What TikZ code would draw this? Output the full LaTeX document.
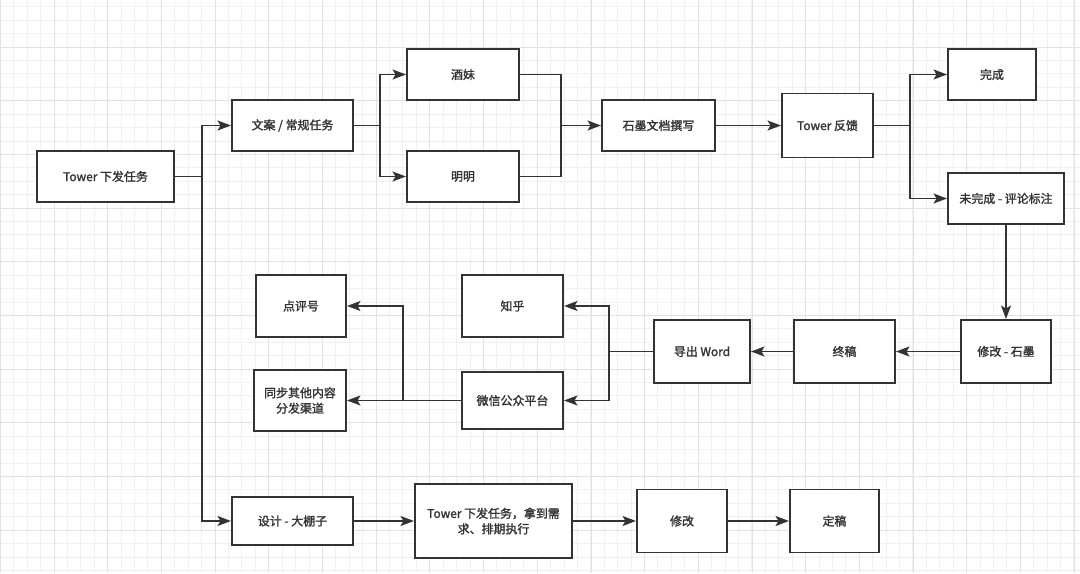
\documentclass[tikz,border=0pt]{standalone}
\usepackage{fontspec}
\setmainfont{Noto Sans CJK SC}
\newfontfamily\boxfont{Noto Sans CJK SC}[FakeBold=1.6]
\usepackage{xcolor}
\usetikzlibrary{arrows.meta,positioning}
\definecolor{inkgray}{HTML}{333333}
\definecolor{gridminor}{HTML}{F0F0F0}
\definecolor{gridmajor}{HTML}{E2E2E2}

\begin{document}
\begin{tikzpicture}[x=0.025cm, y=-0.025cm, >={Stealth[length=9.5pt, width=7pt, inset=2pt]},
    box/.style={draw=inkgray, line width=1.4pt, fill=white, inner sep=1pt,
        font=\boxfont\fontsize{8.5pt}{11pt}\selectfont, text=inkgray, align=center},
    link/.style={draw=inkgray, line width=1.4pt}]
    % Canvas and grid
    \useasboundingbox (0,0) rectangle (1080,573);
    \fill[white] (0,0) rectangle (1080,573);
    \begin{scope}
        \clip (0,0) rectangle (1080,573);
        \foreach \i in {0,...,80}
            \draw[gridminor, line width=0.6pt] ({0.3+\i*13.42},0) -- ++(0,573);
        \foreach \j in {1,...,43}
            \draw[gridminor, line width=0.6pt] (0,{-6.7+\j*13.42}) -- ++(1080,0);
        \foreach \i in {0,...,20}
            \draw[gridmajor, line width=0.7pt] ({0.3+\i*53.7},0) -- ++(0,573);
        \foreach \j in {1,...,10}
            \draw[gridmajor, line width=0.7pt] (0,{-6.7+\j*53.7}) -- ++(1080,0);
    \end{scope}

    % Top row: copywriting tasks
    \node[box, minimum width=3.425cm, minimum height=1.275cm] (tower) at (105.5,176.5) {Tower 下发任务};
    \node[box, minimum width=3.025cm, minimum height=1.275cm] (wenan) at (292.5,125.5) {文案 / 常规任务};
    \node[box, minimum width=2.8cm, minimum height=1.275cm] (jiumei) at (463,74.5) {酒妹};
    \node[box, minimum width=2.8cm, minimum height=1.275cm] (mingming) at (463,176.5) {明明};
    \node[box, minimum width=2.825cm, minimum height=1.275cm] (shimo) at (658.5,125.5) {石墨文档撰写};
    \node[box, minimum width=2.275cm, minimum height=1.6cm] (fankui) at (827.5,125.5) {Tower 反馈};
    \node[box, minimum width=2.2cm, minimum height=1.275cm] (wancheng) at (992,74.5) {完成};
    \node[box, minimum width=2.9cm, minimum height=1.275cm] (weiwancheng) at (1006,198.5) {未完成 - 评论标注};

    % Middle row: publishing
    \node[box, minimum width=2.25cm, minimum height=1.575cm] (xiugaishimo) at (1006,351.5) {修改 - 石墨};
    \node[box, minimum width=2.525cm, minimum height=1.575cm] (zhonggao) at (844.5,351.5) {终稿};
    \node[box, minimum width=2.4cm, minimum height=1.575cm] (daochu) at (702,351.5) {导出 Word};
    \node[box, minimum width=2.525cm, minimum height=1.55cm] (zhihu) at (512.5,306) {知乎};
    \node[box, minimum width=2.525cm, minimum height=1.425cm] (weixin) at (512.5,400.5) {微信公众平台};
    \node[box, minimum width=2.25cm, minimum height=1.55cm] (dianping) at (301,306) {点评号};
    \node[box, minimum width=2.3cm, minimum height=1.525cm] (tongbu) at (300,400.5) {同步其他内容\\分发渠道};

    % Bottom row: design tasks
    \node[box, minimum width=3.025cm, minimum height=1.2cm] (sheji) at (292.5,521) {设计 - 大棚子};
    \node[box, minimum width=3.925cm, minimum height=1.85cm] (towerxf) at (493.5,521) {Tower 下发任务，拿到需\\求、排期执行};
    \node[box, minimum width=2.25cm, minimum height=1.575cm] (xiugai) at (682,521) {修改};
    \node[box, minimum width=2.225cm, minimum height=1.575cm] (dinggao) at (834.5,521) {定稿};

    % Branch points
    \coordinate (trunk) at (202,176.5);
    \coordinate (splitA) at (380,125.5);
    \coordinate (mergeA) at (561,125.5);
    \coordinate (splitB) at (910,125.5);
    \coordinate (splitC) at (609,351.5);
    \coordinate (splitD) at (403,400.5);

    % Connectors
    \draw[link] (tower.east) -- (trunk);
    \draw[link, ->] (trunk) |- (wenan.west);
    \draw[link, ->] (trunk) |- (sheji.west);
    \draw[link] (wenan.east) -- (splitA);
    \draw[link, ->] (splitA) |- (jiumei.west);
    \draw[link, ->] (splitA) |- (mingming.west);
    \draw[link] (jiumei.east) -| (mergeA);
    \draw[link] (mingming.east) -| (mergeA);
    \draw[link, ->] (mergeA) -- (shimo.west);
    \draw[link, ->] (shimo.east) -- (fankui.west);
    \draw[link] (fankui.east) -- (splitB);
    \draw[link, ->] (splitB) |- (wancheng.west);
    \draw[link, ->] (splitB) |- (weiwancheng.west);
    \draw[link, ->] (weiwancheng.south) -- (xiugaishimo.north);
    \draw[link, ->] (xiugaishimo.west) -- (zhonggao.east);
    \draw[link, ->] (zhonggao.west) -- (daochu.east);
    \draw[link] (daochu.west) -- (splitC);
    \draw[link, ->] (splitC) |- (zhihu.east);
    \draw[link, ->] (splitC) |- (weixin.east);
    \draw[link, ->] (weixin.west) -- (tongbu.east);
    \draw[link, ->] (splitD) |- (dianping.east);
    \draw[link, ->] (sheji.east) -- (towerxf.west);
    \draw[link, ->] (towerxf.east) -- (xiugai.west);
    \draw[link, ->] (xiugai.east) -- (dinggao.west);
\end{tikzpicture}
\end{document}
